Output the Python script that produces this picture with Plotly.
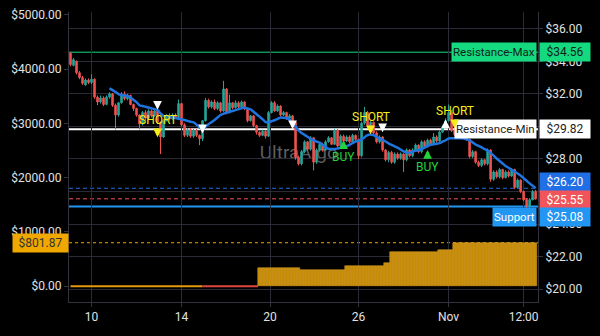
import plotly.graph_objects as go

# ---------------- data ----------------
bar_idx = list(range(156))
tick_pos = [7, 37, 66.5, 96, 126, 151]
tick_text = ["10", "14", "20", "26", "Nov", "12:00"]

open_ = [34.50, 33.75, 34.00, 33.30, 33.00, 32.55, 32.85, 32.70, 32.90, 31.80,
         31.50, 31.75, 31.35, 31.80, 32.00, 31.30, 30.70, 31.45, 31.95, 31.70,
         31.90, 31.35, 31.10, 30.70, 30.15, 30.85, 30.50, 30.95, 30.65, 30.95,
         30.25, 29.35, 30.35, 30.65, 30.45, 30.70, 30.55, 31.40, 30.10, 29.45,
         29.80, 29.40, 29.75, 29.45, 29.25, 30.35, 31.60, 31.20, 31.50, 31.10,
         31.45, 30.95, 32.30, 30.85, 31.45, 31.15, 31.45, 31.20, 31.50, 31.10,
         30.35, 30.65, 30.05, 29.64, 29.45, 29.70, 29.40, 30.85, 31.45, 30.95,
         31.25, 30.70, 30.85, 30.50, 30.65, 30.25, 28.10, 27.70, 28.45, 29.05,
         28.60, 29.30, 27.80, 28.55, 28.90, 28.55, 29.05, 29.30, 28.90, 29.75,
         28.80, 29.40, 29.10, 29.35, 29.05, 29.45, 29.20, 28.20, 30.20, 30.85,
         30.00, 30.25, 29.60, 29.05, 29.35, 28.55, 27.95, 28.40, 27.80, 28.30,
         28.05, 28.30, 27.95, 28.55, 28.20, 28.55, 28.85, 28.45, 29.05, 28.75,
         29.15, 28.90, 29.35, 29.10, 29.65, 29.95, 30.35, 30.85, 29.75, 29.50,
         29.70, 29.35, 29.55, 29.20, 28.15, 28.45, 27.80, 27.60, 27.95, 27.70,
         28.55, 26.75, 27.20, 26.90, 27.35, 26.85, 27.20, 26.95, 27.35, 26.25,
         26.70, 26.00, 25.50, 25.10, 25.50, 26.00]
high = [34.55, 34.20, 34.05, 33.40, 33.10, 32.95, 32.95, 33.20, 32.95, 31.90,
        31.90, 31.85, 31.90, 32.10, 32.05, 31.40, 31.50, 32.10, 32.15, 32.00,
        31.95, 31.40, 31.15, 30.75, 30.95, 31.00, 31.05, 31.05, 31.10, 31.00,
        30.30, 30.45, 30.75, 30.80, 30.80, 30.80, 31.65, 31.45, 30.20, 29.90,
        29.90, 29.85, 29.85, 29.50, 30.40, 31.75, 31.70, 31.60, 31.65, 31.55,
        31.50, 32.80, 32.35, 31.95, 31.50, 31.60, 31.55, 31.60, 31.55, 31.15,
        30.70, 30.70, 30.10, 29.70, 29.80, 29.75, 30.95, 31.55, 31.55, 31.35,
        31.30, 30.95, 30.90, 30.75, 30.70, 30.30, 28.20, 28.55, 29.15, 29.10,
        29.40, 29.35, 28.65, 29.00, 29.00, 29.15, 29.40, 29.35, 29.85, 29.85,
        29.50, 29.50, 29.45, 29.45, 29.55, 29.50, 29.25, 30.30, 31.20, 30.95,
        30.35, 30.30, 29.70, 29.45, 29.40, 28.60, 28.50, 28.50, 28.40, 28.40,
        28.40, 28.35, 28.65, 28.60, 28.65, 28.95, 28.90, 29.15, 29.15, 29.25,
        29.25, 29.60, 29.45, 29.75, 30.10, 30.50, 31.35, 31.00, 29.85, 29.80,
        29.75, 29.65, 29.60, 29.25, 28.55, 28.50, 27.90, 28.05, 28.00, 28.65,
        28.60, 27.30, 27.30, 27.45, 27.40, 27.30, 27.30, 27.45, 27.40, 26.80,
        26.75, 26.05, 25.60, 25.60, 26.10, 26.10]
low = [33.70, 33.70, 33.20, 32.90, 32.55, 32.50, 32.60, 32.60, 31.70, 31.30,
       31.40, 31.25, 31.30, 31.70, 31.20, 29.80, 30.60, 31.40, 31.60, 31.60,
       31.30, 30.95, 30.60, 29.80, 30.05, 30.40, 30.40, 30.55, 30.60, 30.15,
       28.30, 29.30, 30.30, 30.35, 30.40, 30.45, 30.50, 30.00, 29.35, 29.35,
       29.30, 29.30, 29.35, 28.85, 29.10, 30.30, 31.10, 31.10, 31.00, 31.00,
       30.85, 30.90, 30.75, 30.80, 31.05, 31.10, 31.10, 31.15, 31.00, 30.25,
       30.30, 29.95, 29.50, 29.35, 29.40, 29.25, 29.35, 30.80, 30.90, 30.90,
       30.60, 30.65, 30.40, 30.45, 30.20, 27.95, 27.60, 27.60, 28.35, 28.50,
       28.50, 27.30, 27.70, 28.45, 28.45, 28.50, 29.00, 28.85, 28.85, 28.70,
       28.75, 29.00, 29.05, 28.95, 29.00, 29.10, 28.00, 28.10, 30.10, 29.90,
       29.90, 29.50, 28.95, 28.95, 28.45, 27.85, 27.80, 27.70, 27.70, 27.95,
       27.95, 27.20, 27.85, 28.10, 28.10, 28.50, 28.35, 28.35, 28.65, 28.70,
       28.80, 28.85, 29.00, 29.05, 29.60, 29.90, 30.30, 29.65, 29.40, 29.40,
       29.25, 29.30, 29.10, 28.05, 28.05, 27.70, 27.50, 27.50, 27.60, 27.60,
       26.60, 26.65, 26.80, 26.80, 26.75, 26.80, 26.85, 26.90, 26.15, 26.20,
       25.90, 25.40, 24.95, 25.00, 25.45, 25.50]
close = [33.80, 34.10, 33.30, 33.00, 32.65, 32.85, 32.70, 32.90, 31.80, 31.50,
         31.75, 31.35, 31.80, 32.00, 31.30, 30.70, 31.45, 31.95, 31.70, 31.90,
         31.35, 31.10, 30.70, 30.15, 30.85, 30.50, 30.95, 30.65, 30.95, 30.25,
         29.35, 30.35, 30.65, 30.45, 30.70, 30.55, 31.40, 30.10, 29.45, 29.80,
         29.40, 29.75, 29.45, 29.25, 30.35, 31.60, 31.20, 31.50, 31.10, 31.45,
         30.95, 32.30, 30.85, 31.45, 31.15, 31.45, 31.20, 31.50, 31.10, 30.35,
         30.65, 30.05, 29.64, 29.45, 29.70, 29.40, 30.85, 31.45, 30.95, 31.25,
         30.70, 30.85, 30.50, 30.65, 30.25, 28.10, 27.70, 28.45, 29.05, 28.60,
         29.30, 27.80, 28.55, 28.90, 28.55, 29.05, 29.30, 28.90, 29.75, 28.80,
         29.40, 29.10, 29.35, 29.05, 29.45, 29.20, 28.20, 30.20, 30.85, 30.00,
         30.25, 29.60, 29.05, 29.35, 28.55, 27.95, 28.40, 27.80, 28.30, 28.05,
         28.30, 27.95, 28.55, 28.20, 28.55, 28.85, 28.45, 29.05, 28.75, 29.15,
         28.90, 29.35, 29.10, 29.65, 29.95, 30.35, 30.85, 29.75, 29.50, 29.70,
         29.35, 29.55, 29.20, 28.15, 28.45, 27.80, 27.60, 27.95, 27.70, 28.55,
         26.75, 27.20, 26.90, 27.35, 26.85, 27.20, 26.95, 27.35, 26.25, 26.70,
         26.00, 25.50, 25.10, 25.50, 26.00, 25.55]

moving_avg = [None] * 13 + [
    32.34, 32.23, 32.12, 31.99, 31.93, 31.90, 31.87, 31.77, 31.63, 31.49,
    31.30, 31.25, 31.21, 31.16, 31.11, 31.06, 31.00, 30.80, 30.65, 30.62,
    30.58, 30.55, 30.51, 30.47, 30.44, 30.39, 30.34, 30.29, 30.25, 30.11,
    29.93, 29.84, 29.98, 30.14, 30.26, 30.40, 30.55, 30.70, 30.78, 30.84,
    30.90, 30.95, 31.00, 31.06, 31.12, 31.15, 31.10, 31.04, 30.90, 30.75,
    30.60, 30.45, 30.27, 30.26, 30.32, 30.38, 30.46, 30.54, 30.53, 30.50,
    30.42, 30.20, 30.00, 29.75, 29.60, 29.48, 29.36, 29.24, 29.15, 29.07,
    29.00, 28.87, 28.74, 28.62, 28.61, 28.61, 28.64, 28.68, 28.72, 28.78,
    28.87, 28.97, 29.06, 29.13, 29.20, 29.33, 29.47, 29.50, 29.46, 29.36,
    29.25, 29.17, 29.07, 28.96, 28.86, 28.78, 28.69, 28.58, 28.47, 28.39,
    28.37, 28.45, 28.50, 28.55, 28.61, 28.70, 28.80, 28.87, 28.90, 28.94,
    28.97, 29.06, 29.15, 29.26, 29.27, 29.27, 29.27, 29.27, 29.25, 29.20,
    29.14, 29.02, 28.89, 28.80, 28.71, 28.60, 28.52, 28.37, 28.20, 28.03,
    27.87, 27.72, 27.57, 27.46, 27.34, 27.23, 27.11, 26.98, 26.82, 26.66,
    26.50, 26.36, 26.20]

equity = ([0] * 63 + [327] * 14 + [291] * 15 + [364] * 13 + [436] * 2
          + [636] * 16 + [673] * 5 + [802] * 28)
loss_start = 44       # bar where the flat P&L line turns red
equity_last = 801.87
equity_ticks = [0, 1000, 2000, 3000, 4000, 5000]

level_prices = [34.56, 29.82, 26.20, 25.55, 25.08]
level_names = ["Resistance-Max", "Resistance-Min", "", "", "Support"]
level_colors = ["#14d97f", "#ffffff", "#1f6fe6", "#f2545b", "#2196f3"]
level_text_colors = ["#10231a", "#222222", "#ffffff", "#ffffff", "#ffffff"]
level_dash = ["solid", "solid", "4px,3px", "4px,3px", "solid"]
level_width = [1, 2, 1, 1, 2]
label_nudge = [0, 0, 6, -1, -11]   # price-scale labels pushed apart to avoid overlap

sig_idx = [29, 29, 44, 74, 91, 100, 104, 119, 125, 128]
sig_price = [31.03, 29.33, 29.58, 29.82, 29.15, 29.52, 29.64, 28.55, 30.42, 29.88]
sig_kind = ["exit_down", "short", "exit_down", "exit_down", "buy", "short",
            "exit_down", "buy", "exit_up", "short"]

# ---------------- figure ----------------
GRID = "#2b2b37"
AXL = "#33333f"
TXT = "#e2e2e2"
FONT = "Roboto"

fig = go.Figure()

pos_x = [i for i in bar_idx if equity[i] > 0]
pos_y = [equity[i] for i in bar_idx if equity[i] > 0]
fig.add_trace(go.Bar(x=pos_x, y=pos_y, yaxis="y", width=1.0,
                     marker=dict(color="#c68c07", line=dict(color="#dfa52c", width=0.5)),
                     hoverinfo="skip"))
flat = [i for i in bar_idx if equity[i] == 0]
fig.add_trace(go.Scatter(x=[i for i in flat if i <= loss_start],
                         y=[equity[i] for i in flat if i <= loss_start],
                         mode="lines", line=dict(color="#e39a0c", width=2), yaxis="y"))
fig.add_trace(go.Scatter(x=[i for i in flat if i >= loss_start] + [pos_x[0] - 0.5],
                         y=[equity[i] for i in flat if i >= loss_start] + [0],
                         mode="lines", line=dict(color="#e0443f", width=2), yaxis="y"))

fig.add_trace(go.Candlestick(
    x=bar_idx, open=open_, high=high, low=low, close=close, yaxis="y2",
    increasing=dict(line=dict(color="#26a69a", width=1), fillcolor="#26a69a"),
    decreasing=dict(line=dict(color="#ef5350", width=1), fillcolor="#ef5350"),
    whiskerwidth=0, hoverinfo="skip"))

fig.add_trace(go.Scatter(x=bar_idx, y=moving_avg, yaxis="y2", mode="lines",
                         line=dict(color="#1f74e0", width=2.5, shape="spline"),
                         hoverinfo="skip"))

shapes = []
annotations = []
for p, name, c, tc, d, w, nud in zip(level_prices, level_names, level_colors,
                                      level_text_colors, level_dash, level_width,
                                      label_nudge):
    shapes.append(dict(type="line", xref="paper", x0=0, x1=1, yref="y2", y0=p, y1=p,
                       line=dict(color=c, width=w, dash=d), layer="between"))
    annotations.append(dict(xref="paper", x=1, xanchor="left", xshift=1, yref="y2", y=p,
                            yshift=nud, text=f"${p:.2f}", showarrow=False, bgcolor=c,
                            width=48, height=16, borderpad=1,
                            font=dict(family=FONT, size=12, color=tc)))
    if name:
        annotations.append(dict(xref="paper", x=1, xanchor="right", xshift=-1, yref="y2",
                                y=p, yshift=nud, text=name, showarrow=False, bgcolor=c,
                                height=16, borderpad=1,
                                font=dict(family=FONT, size=11.5, color=tc)))

shapes.append(dict(type="line", xref="paper", x0=0, x1=1, yref="y", y0=equity_last,
                   y1=equity_last, line=dict(color="#f0a500", width=1, dash="3px,3px"),
                   layer="between"))
annotations.append(dict(xref="paper", x=0, xanchor="right", xshift=0, yref="y",
                        y=equity_last, text=f"${equity_last:.2f}", showarrow=False,
                        bgcolor="#f0a800", width=53, height=16, borderpad=1,
                        font=dict(family=FONT, size=12, color="#333333")))

shapes.append(dict(type="rect", xref="paper", yref="paper", x0=0.39, x1=0.59,
                   y0=0.47, y1=0.57, line=dict(width=0), fillcolor="rgba(0,0,0,0)",
                   layer="between",
                   label=dict(text="UltraAlgo", textposition="middle center",
                              font=dict(family=FONT, size=19, color="#5e5e5e"))))

for k, i, p in zip(sig_kind, sig_idx, sig_price):
    if k == "short":
        txt, col, ay, fs = "SHORT", "#f5ee1a", -17, 12
    elif k == "buy":
        txt, col, ay, fs = "BUY", "#22d43a", 17, 12
    elif k == "exit_down":
        txt, col, ay, fs = " ", "#ffffff", -10, 1
    else:
        txt, col, ay, fs = " ", "#ffffff", 10, 1
    annotations.append(dict(x=i, y=p, xref="x", yref="y2", text=txt, showarrow=True,
                            ax=0, ay=ay, arrowhead=2, arrowsize=0.7, arrowwidth=2.5,
                            arrowcolor=col, standoff=0,
                            font=dict(family=FONT, size=fs, color=col)))

fig.update_layout(
    width=600, height=336, autosize=False,
    paper_bgcolor="#000000", plot_bgcolor="#000000",
    margin=dict(l=69, r=62, t=8, b=34),
    showlegend=False, barmode="overlay", bargap=0,
    font=dict(family=FONT, size=12, color=TXT),
    xaxis=dict(range=[-0.5, 155.8], tickvals=tick_pos, ticktext=tick_text,
               showgrid=True, gridcolor=GRID, gridwidth=1, zeroline=False,
               showline=True, linecolor=AXL, ticks="outside", ticklen=4,
               tickcolor=AXL, rangeslider=dict(visible=False),
               tickfont=dict(family=FONT, size=12, color=TXT)),
    yaxis=dict(range=[-291, 5055], tickvals=equity_ticks,
               ticktext=[f"${v:.2f}" for v in equity_ticks],
               showgrid=False, zeroline=False,
               showline=True, linecolor=AXL, ticks="outside", ticklen=4,
               tickcolor=AXL, tickfont=dict(family=FONT, size=12, color=TXT)),
    yaxis2=dict(range=[19.21, 37.03], overlaying="y", side="right", tick0=20, dtick=2,
                tickprefix="$", tickformat=".2f", showgrid=True, gridcolor=GRID,
                zeroline=False, showline=True, linecolor=AXL, ticks="outside",
                ticklen=4, tickcolor=AXL,
                tickfont=dict(family=FONT, size=12, color=TXT)),
    shapes=shapes, annotations=annotations,
)

fig.write_html("out.html")
